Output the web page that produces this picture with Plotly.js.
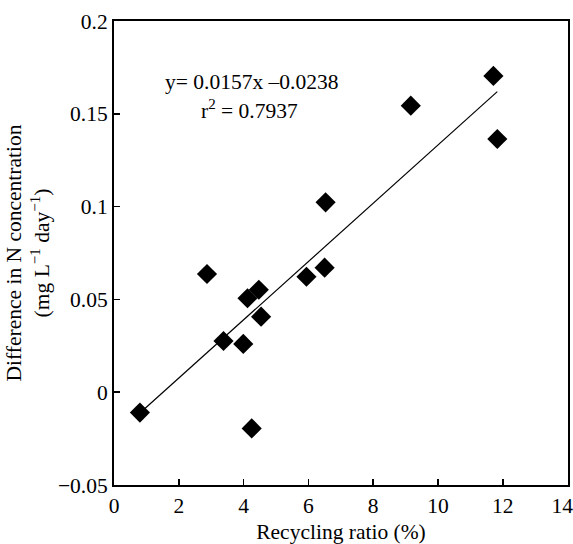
<!DOCTYPE html>
<html>
<head>
<meta charset="utf-8">
<script src="https://cdn.plot.ly/plotly-3.0.1.min.js"></script>
<style>html,body{margin:0;padding:0;background:#fff;}#chart{width:573px;height:544px;}</style>
</head>
<body>
<div id="chart"></div>
<script>
// Data
const recyclingRatio = [0.80, 4.25, 2.87, 4.12, 4.47, 4.54, 3.38, 3.99, 5.94, 6.50, 6.53, 9.16, 11.71, 11.83];
const diffN          = [-0.011, -0.0195, 0.0637, 0.0506, 0.0552, 0.0407, 0.0276, 0.026, 0.0622, 0.0671, 0.1023, 0.1544, 0.1704, 0.1364];
const fitSlope = 0.0157;
const fitIntercept = -0.0238;
const fitR2 = 0.7937;
const xTicks = [0, 2, 4, 6, 8, 10, 12, 14];
const yTicks = [-0.05, 0, 0.05, 0.1, 0.15, 0.2];

const xMin = Math.min(...recyclingRatio), xMax = Math.max(...recyclingRatio);
const fitX = [xMin, xMax];
const fitY = fitX.map(x => fitSlope * x + fitIntercept);

const font = {family: 'Liberation Serif, Times New Roman, serif', color: '#000', size: 21.5};

const traces = [
  {x: fitX, y: fitY, mode: 'lines', line: {color: '#000', width: 1.2}, hoverinfo: 'skip', showlegend: false},
  {x: recyclingRatio, y: diffN, mode: 'markers', marker: {symbol: 'diamond', size: 15.5, color: '#000'}, showlegend: false}
];

// last label is padded so it stays inside the page edge, as in the reference
const xTickText = xTicks.map((v, i) => i === xTicks.length - 1 ? String(v) + '\u00a0\u00a0' : String(v));

const layout = {
  width: 573, height: 544,
  margin: {l: 114, r: 5, t: 21, b: 59},
  paper_bgcolor: '#fff', plot_bgcolor: '#fff',
  font: font,
  showlegend: false,
  xaxis: {
    range: [0, 14.012], tickvals: xTicks, ticktext: xTickText,
    ticks: 'inside', ticklen: 6, tickwidth: 1.5, tickcolor: '#000',
    ticklabeloverflow: 'allow',
    showline: true, linecolor: '#000', linewidth: 2, mirror: true,
    showgrid: false, zeroline: false,
    tickfont: font,
    title: {text: 'Recycling ratio (%)', font: font, standoff: 12}
  },
  yaxis: {
    range: [-0.05, 0.2], tickvals: yTicks, ticktext: yTicks.map(v => v < 0 ? '\u2212' + Math.abs(v) : String(v)),
    ticks: 'inside', ticklen: 6, tickwidth: 1.5, tickcolor: '#000',
    ticklabeloverflow: 'allow',
    showline: true, linecolor: '#000', linewidth: 2, mirror: true,
    showgrid: false, zeroline: false,
    tickfont: font,
    title: {text: 'Difference in N concentration<br>(mg L<sup>\u22121</sup> day<sup>\u22121</sup>)', font: font, standoff: 2}
  },
  annotations: [
    {xref: 'paper', yref: 'paper', x: (251 - 114) / 454, y: (485 - 82) / 464, xanchor: 'center', yanchor: 'middle',
     text: 'y= ' + fitSlope + 'x \u2013' + Math.abs(fitIntercept), showarrow: false, font: font},
    {xref: 'paper', yref: 'paper', x: (249 - 114) / 454, y: (485 - 110) / 464, xanchor: 'center', yanchor: 'middle',
     text: 'r<sup>2</sup> = ' + fitR2, showarrow: false, font: font}
  ]
};

Plotly.newPlot('chart', traces, layout, {staticPlot: true, displayModeBar: false});
</script>
</body>
</html>
